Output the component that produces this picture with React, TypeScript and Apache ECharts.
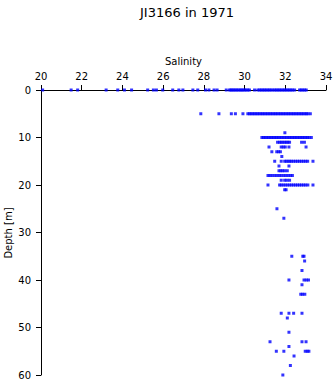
import React, { useEffect, useRef } from "react";
import * as echarts from "echarts";

const titleText = "JI3166 in 1971";
const xName = "Salinity";
const yName = "Depth [m]";
const xTicks = { min: 20, max: 34, interval: 2 };
const yTicks = { min: 0, max: 60, interval: 10 };

// Salinity readings at each sampled depth (m)
const sal0 = [20.08, 21.48, 21.8, 23.2, 23.77, 24.1, 24.45, 25.24, 25.52, 25.67, 25.98, 26.47, 26.77, 26.97, 27.46, 27.7, 28.08, 28.25, 28.5, 28.65, 29.1, 29.26, 29.33, 29.4, 29.47, 29.55, 29.62, 29.7, 29.78, 29.85, 29.92, 30.0, 30.08, 30.16, 30.24, 30.49, 30.65, 30.74, 30.82, 30.9, 30.98, 31.06, 31.14, 31.22, 31.3, 31.39, 31.48, 31.56, 31.64, 31.72, 31.8, 31.88, 31.96, 32.04, 32.12, 32.2, 32.28, 32.36, 32.46, 32.7, 32.78, 32.86, 32.95, 33.03];
const sal5 = [27.85, 28.74, 29.35, 29.55, 29.92, 30.16, 30.24, 30.32, 30.4, 30.48, 30.56, 30.64, 30.72, 30.8, 30.88, 30.96, 31.04, 31.12, 31.2, 31.28, 31.36, 31.44, 31.52, 31.6, 31.68, 31.76, 31.84, 31.92, 32.0, 32.08, 32.16, 32.24, 32.32, 32.4, 32.48, 32.56, 32.64, 32.72, 32.8, 32.88, 32.96, 33.04, 33.11, 33.23];
const sal9 = [31.98];
const sal10 = [30.85, 30.93, 31.01, 31.09, 31.17, 31.25, 31.33, 31.41, 31.49, 31.57, 31.65, 31.73, 31.81, 31.89, 31.97, 32.05, 32.13, 32.21, 32.29, 32.37, 32.45, 32.53, 32.61, 32.69, 32.77, 32.85, 32.93, 33.01, 33.09, 33.17, 33.28];
const sal11 = [31.62, 31.72, 31.8, 31.88, 31.97, 32.05, 32.13, 32.21, 32.8, 32.94];
const sal12 = [31.2, 31.8, 31.9, 32.0, 32.18, 33.02];
const sal13 = [31.34, 31.58, 31.67, 31.76];
const sal14 = [31.83];
const sal15 = [31.48, 31.8, 31.97, 32.05, 32.14, 32.22, 32.3, 32.4, 32.5, 32.6, 32.7, 32.8, 32.9, 33.0, 33.1, 33.36];
const sal16 = [31.69, 32.18];
const sal17 = [31.69, 31.78, 31.87, 31.97, 32.1];
const sal18 = [31.15, 31.25, 31.36, 31.48, 31.59, 31.7, 31.8, 31.92, 32.03, 32.14, 32.25, 32.35];
const sal19 = [31.8, 31.97, 32.08, 32.21];
const sal20 = [31.15, 31.72, 31.8, 31.9, 32.0, 32.1, 32.2, 32.3, 32.4, 32.5, 32.6, 32.7, 32.8, 32.9, 33.0, 33.11, 33.36];
const sal21 = [31.97, 32.04];
const sal25 = [31.59];
const sal27 = [31.93];
const sal35 = [32.32, 32.86, 32.92];
const sal36 = [32.95];
const sal38 = [32.82];
const sal40 = [32.18, 32.92, 33.03, 33.14];
const sal41 = [32.82];
const sal43 = [32.76, 32.85, 32.96];
const sal47 = [31.8, 32.18, 32.41, 32.82];
const sal48 = [32.1];
const sal51 = [32.18];
const sal53 = [31.25, 32.82, 33.02];
const sal54 = [32.18];
const sal55 = [31.56, 31.93, 32.98, 33.08, 33.16];
const sal56 = [32.43];
const sal58 = [32.25];
const sal60 = [31.88];

const depthLevels = [0, 5, 9, 10, 11, 12, 13, 14, 15, 16, 17, 18, 19, 20, 21, 25, 27, 35, 36, 38, 40, 41, 43, 47, 48, 51, 53, 54, 55, 56, 58, 60];
const salinityByLevel = [sal0, sal5, sal9, sal10, sal11, sal12, sal13, sal14, sal15, sal16, sal17, sal18, sal19, sal20, sal21, sal25, sal27, sal35, sal36, sal38, sal40, sal41, sal43, sal47, sal48, sal51, sal53, sal54, sal55, sal56, sal58, sal60];

export default function App() {
  const ref = useRef<HTMLDivElement>(null);
  useEffect(() => {
    if (!ref.current) return;
    const chart = echarts.init(ref.current, undefined, { renderer: "svg" });
    const points: number[][] = [];
    depthLevels.forEach((d, i) => {
      salinityByLevel[i].forEach((s) => points.push([s, d]));
    });
    const font = "DejaVu Sans";
    chart.setOption({
      animation: false,
      backgroundColor: "#ffffff",
      title: {
        text: titleText,
        left: 182,
        top: 1,
        textAlign: "center",
        textStyle: { fontFamily: font, fontSize: 13, fontWeight: "normal", color: "#000" },
      },
      graphic: [
        {
          type: "text",
          x: 8,
          y: 233,
          rotation: Math.PI / 2,
          style: {
            text: yName,
            fontFamily: font,
            fontSize: 10,
            fill: "#000",
            textAlign: "center",
            textVerticalAlign: "middle",
          },
        },
      ],
      grid: { left: 41, right: 9, top: 90, bottom: 9, containLabel: false, outerBoundsMode: "none" },
      xAxis: {
        type: "value",
        position: "top",
        min: xTicks.min,
        max: xTicks.max,
        interval: xTicks.interval,
        name: xName,
        nameLocation: "middle",
        nameGap: 23,
        nameTextStyle: { fontFamily: font, fontSize: 10, color: "#000" },
        axisLine: { show: true, onZero: false, lineStyle: { color: "#000", width: 1 } },
        axisTick: { show: true, length: 5, lineStyle: { color: "#000" } },
        axisLabel: { fontFamily: font, fontSize: 10, color: "#000", margin: 9 },
        splitLine: { show: false },
      },
      yAxis: {
        type: "value",
        inverse: true,
        min: yTicks.min,
        max: yTicks.max,
        interval: yTicks.interval,
        axisLine: { show: true, onZero: false, lineStyle: { color: "#000", width: 1 } },
        axisTick: { show: true, length: 5, lineStyle: { color: "#000" } },
        axisLabel: { fontFamily: font, fontSize: 10, color: "#000", margin: 10 },
        splitLine: { show: false },
      },
      series: [
        {
          type: "scatter",
          data: points,
          symbol: "rect",
          symbolSize: 3,
          itemStyle: { color: "#0000ff" },
          emphasis: { disabled: true },
        },
      ],
    });
    return () => chart.dispose();
  }, []);
  return (
    <div
      ref={ref}
      style={{ position: "absolute", left: 0, top: 0, width: 335, height: 384 }}
    />
  );
}
